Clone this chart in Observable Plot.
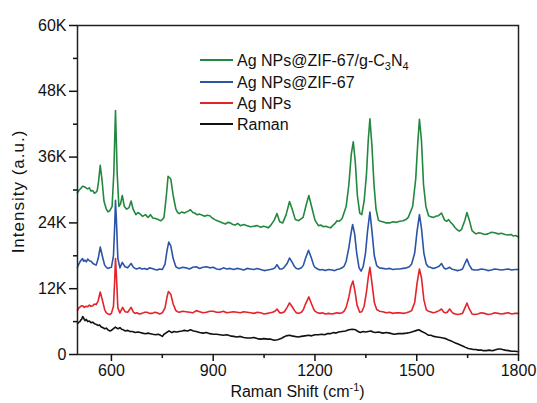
<!DOCTYPE html>
<html><head><meta charset="utf-8">
<script src="https://cdn.jsdelivr.net/npm/d3@7"></script>
<script src="https://cdn.jsdelivr.net/npm/@observablehq/plot@0.6"></script>
<style>
body{margin:0;background:#fff;}
#chart{width:537px;height:403px;}
</style></head><body><div id="chart"></div>
<script>
// Series names and colours (legend order: top to bottom)
const seriesNames = ["Ag NPs@ZIF-67/g-C3N4", "Ag NPs@ZIF-67", "Ag NPs", "Raman"];
const seriesColors = ["#23883f", "#2b54a8", "#e4232a", "#111111"];

// Tick values
const xMajorTicks = [600, 900, 1200, 1500, 1800];
const xMinorTicks = [750, 1050, 1350, 1650];
const yMajorTicks = [0, 12000, 24000, 36000, 48000, 60000];
const yMinorTicks = [6000, 18000, 30000, 42000, 54000];
const yTickLabels = ["0", "12K", "24K", "36K", "48K", "60K"];

// Spectra: [Raman shift (cm-1), intensity (K counts)]
const greenSpectrum = [
[500,29.5],[505,30.0],[510,30.3],[515,30.7],[520,30.6],[525,30.4],[530,30.2],[535,30.4],[540,29.8],[545,29.9],[550,29.4],[555,29.6],[558,29.9],[562,31.5],[567,34.5],[572,32],[578,28],[585,26.5],[590,26.0],[595,26.2],[602,27],[607,33],[612,44.5],[617,33],[622,27],[627,27.5],[632,29],[638,27],[645,26.5],[652,26.8],[658,28],[664,26.5],[672,25.5],[678,25.9],[685,25.6],[692,25.2],[700,25.5],[708,25.0],[715,25.5],[722,24.9],[730,24.8],[738,24.6],[745,24.4],[750,24.6],[755,25],[762,29],[767,32.5],[775,32],[782,29],[790,26.5],[795,25.9],[800,25.7],[808,26.0],[815,25.8],[825,26.1],[833,26.4],[840,25.9],[845,25.8],[852,25.5],[860,25.6],[868,25.4],[875,25.2],[882,25.4],[890,25.3],[897,24.9],[905,24.6],[912,24.4],[920,24.2],[928,24.0],[936,23.8],[943,24.1],[950,24],[958,23.7],[965,23.6],[972,23.9],[980,23.5],[990,23.7],[1000,23.5],[1010,23.3],[1020,23.4],[1030,23.5],[1040,23.2],[1048,23.4],[1055,23.3],[1062,23.1],[1070,23.6],[1080,24.5],[1088,25.7],[1096,24.2],[1105,24],[1115,25.5],[1125,27.9],[1133,26.5],[1142,24.6],[1152,24.4],[1165,25],[1175,27.5],[1182,29],[1190,27],[1200,24.5],[1210,23.5],[1218,23.6],[1225,23.3],[1232,23.4],[1240,23.2],[1246,23.1],[1252,23.5],[1258,23.8],[1265,24.4],[1272,24.3],[1280,24.8],[1292,27],[1300,31],[1307,36.5],[1313,38.8],[1319,35],[1325,29],[1332,25.8],[1338,25.5],[1345,28],[1352,33],[1357,39],[1362,43],[1368,38],[1374,31],[1380,26.5],[1387,24.5],[1393,24.3],[1400,24.2],[1410,24.0],[1420,24],[1430,24.2],[1440,24.1],[1450,24.3],[1460,24.4],[1468,24.6],[1475,25],[1488,27],[1497,32],[1503,38.5],[1508,42.9],[1514,39],[1520,31],[1527,27],[1535,25.3],[1542,25.1],[1550,25],[1556,25.2],[1563,25.3],[1573,25.8],[1582,24.5],[1588,24.3],[1594,24.6],[1600,24.1],[1605,23.8],[1612,23.2],[1620,22.7],[1626,22.5],[1632,22.8],[1642,24.5],[1648,25.9],[1655,24.5],[1663,22.6],[1670,22.2],[1675,22],[1683,22.2],[1690,22.1],[1700,21.9],[1710,22],[1720,22.3],[1730,22.2],[1740,22.0],[1750,22.1],[1760,21.9],[1770,21.8],[1778,21.9],[1785,21.6],[1792,21.7],[1800,21.4]
];
const blueSpectrum = [
[500,15.9],[504,16.5],[508,17],[512,17.3],[515,17.5],[518,17.0],[522,17.2],[526,16.9],[530,17.4],[535,17.1],[540,17],[544,16.7],[548,16.5],[555,16.3],[561,17.5],[567,19.6],[573,18],[580,16.3],[585,15.9],[590,15.7],[595,15.8],[600,15.9],[606,18],[610,24],[612,28.1],[615,24],[619,17.5],[625,15.8],[632,16.8],[640,16],[648,15.8],[658,16.6],[665,15.9],[670,15.7],[675,15.6],[682,15.8],[690,15.6],[698,15.7],[705,15.5],[712,15.8],[720,15.7],[728,15.5],[735,15.4],[742,15.6],[750,15.5],[758,16.5],[764,19],[769,20.5],[775,19.8],[782,17.5],[790,16],[795,15.8],[800,15.7],[810,15.9],[820,15.8],[830,15.6],[840,15.9],[850,16.0],[860,15.7],[870,15.9],[880,16],[890,15.8],[900,15.9],[910,15.6],[920,15.5],[930,15.8],[940,15.6],[950,15.7],[960,15.5],[970,15.7],[980,15.6],[990,15.4],[1000,15.7],[1010,15.6],[1020,15.5],[1030,15.7],[1040,15.5],[1050,15.3],[1060,15.4],[1068,15.5],[1075,15.6],[1082,15.8],[1088,16.4],[1096,15.6],[1102,15.6],[1108,15.8],[1118,16.6],[1125,17.6],[1133,16.8],[1140,16.0],[1145,15.7],[1152,15.6],[1160,15.8],[1166,16.3],[1172,17.5],[1181,19],[1190,17.5],[1196,16.3],[1200,15.9],[1208,15.6],[1215,15.4],[1222,15.5],[1230,15.3],[1240,15.5],[1250,15.4],[1258,15.3],[1265,15.5],[1272,15.6],[1280,15.8],[1286,16.1],[1292,17],[1300,19.5],[1306,22],[1311,23.7],[1317,22],[1323,18.5],[1330,15.8],[1336,15.2],[1342,16],[1349,18.5],[1355,22.5],[1362,26],[1368,22.5],[1375,18],[1382,16.2],[1390,15.8],[1400,15.7],[1410,15.6],[1420,15.7],[1430,15.5],[1440,15.6],[1450,15.6],[1460,15.7],[1470,15.8],[1478,16.0],[1485,16.5],[1494,18.5],[1501,22.5],[1508,25.5],[1514,23],[1521,18.5],[1528,16.5],[1534,16.0],[1540,15.9],[1548,15.7],[1555,15.8],[1566,16.1],[1573,16.6],[1580,15.8],[1585,15.6],[1590,15.7],[1597,15.9],[1603,15.6],[1608,15.5],[1614,15.4],[1620,15.3],[1628,15.4],[1635,15.6],[1642,16.6],[1648,17.4],[1655,16.3],[1663,15.5],[1670,15.4],[1680,15.4],[1690,15.6],[1700,15.5],[1710,15.3],[1720,15.4],[1730,15.6],[1740,15.5],[1750,15.4],[1760,15.5],[1770,15.6],[1780,15.4],[1790,15.5],[1800,15.5]
];
const redSpectrum = [
[500,8.0],[504,8.5],[508,8.7],[512,8.9],[515,8.9],[520,8.6],[525,8.8],[530,8.7],[535,9.0],[540,8.8],[545,8.9],[550,9.2],[555,9.1],[561,9.8],[567,11.4],[573,10],[580,8.2],[585,7.6],[590,7.4],[595,7.3],[600,7.5],[606,8.8],[610,14],[612,17.5],[615,14],[619,8.5],[625,7.6],[633,8.6],[640,7.8],[648,7.7],[658,8.6],[665,7.7],[670,7.5],[675,7.6],[682,7.4],[690,7.5],[698,7.7],[705,7.7],[712,7.5],[720,7.5],[728,7.7],[735,7.6],[742,7.4],[750,7.6],[758,8.5],[764,10.5],[768,11.5],[775,11],[782,9.2],[790,8],[795,7.8],[800,7.7],[810,7.9],[820,7.8],[830,7.7],[840,7.6],[850,8.0],[860,7.8],[870,7.6],[880,7.7],[890,7.9],[900,7.9],[910,7.7],[920,7.7],[930,7.9],[940,7.6],[950,7.7],[960,7.8],[970,7.7],[980,7.6],[990,7.8],[1000,7.7],[1010,7.6],[1020,7.5],[1030,7.7],[1040,7.6],[1050,7.4],[1060,7.5],[1068,7.6],[1075,7.7],[1082,7.9],[1088,8.3],[1096,7.6],[1103,7.6],[1110,7.8],[1118,8.6],[1125,9.4],[1133,8.7],[1140,8.0],[1145,7.6],[1152,7.5],[1160,7.7],[1166,8.2],[1172,9.2],[1182,10.5],[1190,9.2],[1196,8.3],[1200,7.9],[1208,7.6],[1215,7.5],[1222,7.6],[1230,7.4],[1240,7.5],[1250,7.4],[1258,7.5],[1265,7.6],[1272,7.5],[1280,7.6],[1286,7.9],[1292,8.6],[1300,10.5],[1306,12.4],[1312,13.4],[1318,11.5],[1324,9],[1332,7.7],[1338,7.8],[1345,8.8],[1352,11.5],[1357,14],[1362,15.9],[1368,13],[1375,9.5],[1382,8.2],[1390,7.9],[1400,7.8],[1410,7.6],[1420,7.7],[1430,7.5],[1440,7.6],[1450,7.6],[1460,7.5],[1470,7.6],[1478,7.8],[1485,8],[1494,9.5],[1501,13],[1508,15.6],[1514,14],[1521,10],[1528,8.2],[1534,7.9],[1540,7.8],[1548,7.6],[1555,7.7],[1566,8],[1573,8.3],[1580,7.7],[1585,7.6],[1590,7.7],[1597,8.3],[1603,7.8],[1608,7.5],[1614,7.4],[1620,7.3],[1628,7.4],[1635,7.5],[1642,8.5],[1648,9.4],[1655,8.3],[1663,7.4],[1670,7.3],[1680,7.4],[1690,7.6],[1700,7.5],[1710,7.3],[1720,7.4],[1730,7.6],[1740,7.5],[1750,7.4],[1760,7.5],[1770,7.6],[1780,7.4],[1790,7.5],[1800,7.5]
];
const blackSpectrum = [
[500,5.6],[504,5.9],[507,6.0],[510,6.3],[512,6.4],[515,6.9],[517,6.8],[520,6.4],[522,6.2],[526,6.4],[530,6.0],[535,6.1],[540,5.8],[545,5.9],[550,5.6],[555,5.5],[560,5.3],[565,5.4],[570,5.0],[575,4.9],[580,4.7],[585,4.8],[590,4.5],[595,4.3],[600,4.4],[606,4.7],[612,5.0],[616,4.8],[620,4.7],[625,4.9],[630,4.6],[635,4.5],[640,4.3],[648,4.4],[655,4.2],[662,4.2],[670,4.0],[678,4.1],[685,4.0],[692,3.9],[700,3.8],[708,3.9],[715,3.8],[722,3.7],[730,3.6],[738,3.7],[745,3.5],[750,3.3],[755,3.7],[760,3.9],[765,4.1],[770,4.3],[778,4.0],[785,4.2],[792,4.1],[800,4.2],[808,4.3],[815,4.4],[825,4.3],[833,4.5],[842,4.3],[850,4.2],[860,4.0],[870,3.9],[880,4.0],[890,3.8],[900,3.7],[910,3.7],[920,3.6],[930,3.5],[940,3.6],[950,3.4],[960,3.3],[970,3.2],[980,3.3],[990,3.1],[1000,3.0],[1010,3.0],[1020,3.1],[1030,2.9],[1040,2.8],[1050,2.9],[1060,2.8],[1070,2.8],[1080,2.6],[1090,2.7],[1100,2.9],[1108,3.2],[1115,3.4],[1125,3.5],[1132,3.4],[1140,3.3],[1150,3.2],[1160,3.3],[1170,3.4],[1182,3.5],[1190,3.4],[1200,3.6],[1210,3.6],[1220,3.7],[1228,3.6],[1236,3.8],[1245,3.8],[1255,4.0],[1262,3.9],[1270,4.1],[1280,4.2],[1290,4.3],[1300,4.5],[1310,4.6],[1320,4.5],[1327,4.2],[1334,4.0],[1342,4.2],[1349,4.1],[1357,4.2],[1365,4.3],[1371,4.1],[1378,4.0],[1388,4.1],[1400,3.9],[1410,4.0],[1420,3.9],[1433,3.7],[1446,3.8],[1458,3.8],[1470,3.9],[1480,4.0],[1490,4.2],[1500,4.4],[1506,4.5],[1515,4.2],[1525,3.9],[1535,3.5],[1542,3.5],[1550,3.3],[1560,3.2],[1570,3.1],[1578,3.0],[1585,2.9],[1592,2.7],[1600,2.5],[1607,2.3],[1614,2.1],[1622,1.9],[1630,1.7],[1637,1.5],[1644,1.3],[1652,1.1],[1660,1.0],[1667,0.9],[1673,0.9],[1682,0.8],[1690,0.8],[1698,0.7],[1705,0.7],[1714,0.8],[1722,0.7],[1730,0.8],[1735,0.9],[1741,1.0],[1747,1.0],[1753,0.9],[1760,0.8],[1770,0.7],[1780,0.6],[1790,0.6],[1800,0.5]
];

const spectra = [greenSpectrum, blueSpectrum, redSpectrum, blackSpectrum];
const rows = [];
// draw black first, green last
for (let i = spectra.length - 1; i >= 0; i--) {
  for (const [x, y] of spectra[i]) rows.push({series: seriesNames[i], x, y: y * 1000});
}

const FONT = "'Liberation Sans', Arial, Helvetica, sans-serif";

const plot = Plot.plot({
  width: 537,
  height: 403,
  marginLeft: 77,
  marginRight: 19,
  marginTop: 25,
  marginBottom: 49,
  style: {fontFamily: FONT, fontSize: "16px", color: "#111", background: "#fff"},
  x: {domain: [500, 1800]},
  y: {domain: [0, 60000]},
  color: {domain: seriesNames, range: seriesColors},
  marks: [
    Plot.line(rows, {x: "x", y: "y", z: "series", stroke: "series", strokeWidth: 1.6}),
    Plot.frame({stroke: "#222", strokeWidth: 1.5}),
    Plot.axisX({ticks: xMajorTicks, tickSize: 7, tickPadding: 3, strokeWidth: 1.5, label: null, tickFormat: d => String(d)}),
    Plot.axisX({ticks: xMinorTicks, tickSize: 4, strokeWidth: 1.5, label: null, tickFormat: () => ""}),
    Plot.axisY({ticks: yMajorTicks, tickSize: 8, tickPadding: 3, strokeWidth: 1.5, label: null,
      tickFormat: d => yTickLabels[yMajorTicks.indexOf(d)]}),
    Plot.axisY({ticks: yMinorTicks, tickSize: 4, strokeWidth: 1.5, label: null, tickFormat: () => ""})
  ]
});

document.getElementById("chart").appendChild(plot);

const svg = d3.select(plot);
const xs = plot.scale("x"), ys = plot.scale("y");
const plotLeft = xs.range[0], plotRight = xs.range[1];
const plotTop = ys.range[1], plotBottom = ys.range[0];

// Axis titles
svg.append("text")
  .attr("x", (plotLeft + plotRight) / 2).attr("y", 397)
  .attr("text-anchor", "middle")
  .style("font-family", FONT).style("font-size", "16px").attr("fill", "#111")
  .call(t => {
    t.append("tspan").text("Raman Shift (cm");
    t.append("tspan").attr("dy", -6).style("font-size", "11px").text("-1");
    t.append("tspan").attr("dy", 6).text(")");
  });

svg.append("text")
  .attr("transform", `translate(24,${(plotTop + plotBottom) / 2 + 2}) rotate(-90)`)
  .attr("text-anchor", "middle")
  .style("font-family", FONT).style("font-size", "17px").style("letter-spacing", "1px")
  .attr("fill", "#111")
  .text("Intensity (a.u.)");

// Legend
const legend = svg.append("g").attr("text-anchor", "start")
  .style("font-family", FONT).style("font-size", "16px");
const legendRowsY = [60, 82, 103, 124];
seriesNames.forEach((name, i) => {
  const y = legendRowsY[i];
  legend.append("line").attr("x1", 200).attr("x2", 233).attr("y1", y).attr("y2", y)
    .attr("stroke", seriesColors[i]).attr("stroke-width", 1.8);
  const t = legend.append("text").attr("x", 237).attr("y", y + 6)
    .attr("text-anchor", "start").attr("fill", "#111");
  if (i === 0) {
    t.append("tspan").text("Ag NPs@ZIF-67/g-C");
    t.append("tspan").attr("dy", 4).style("font-size", "11px").text("3");
    t.append("tspan").attr("dy", -4).text("N");
    t.append("tspan").attr("dy", 4).style("font-size", "11px").text("4");
  } else {
    t.text(name);
  }
});
</script>
</body></html>
